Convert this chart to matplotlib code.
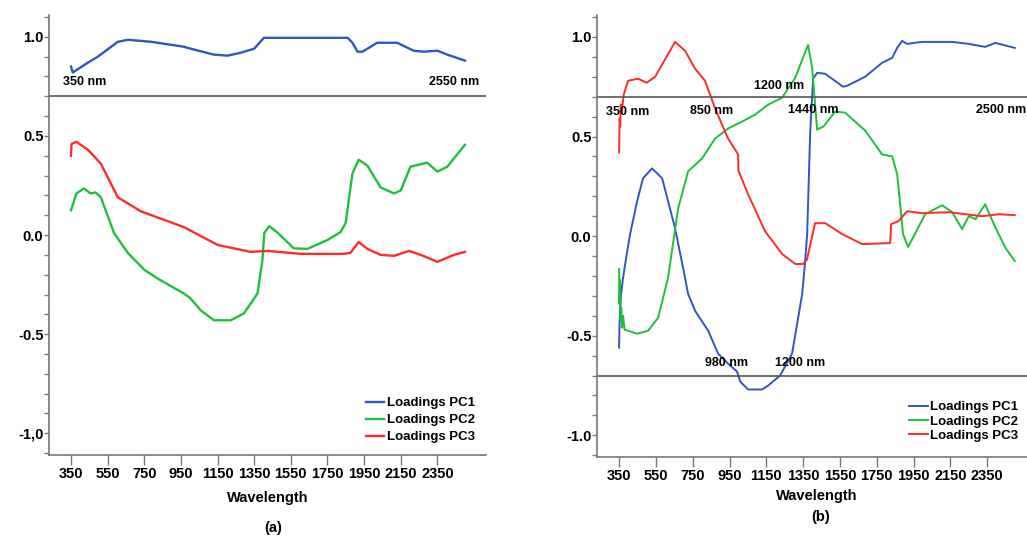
import matplotlib.pyplot as plt
from matplotlib.ticker import MultipleLocator, FixedLocator, FuncFormatter

plt.rcParams['font.family'] = ['Liberation Sans', 'DejaVu Sans']

BLUE = '#2f56c2'
GREEN = '#1fbf3c'
RED = '#ff2a2a'
GRID = '#555555'

# ---- panel (a) ----
a_pc1_wl = [350, 360, 443, 497, 606, 660, 786, 966, 1003, 1131, 1205, 1277, 1350, 1403,
            1600, 1860, 1886, 1914, 1941, 2021, 2130, 2220, 2275, 2350, 2404, 2500]
a_pc1 = [0.85, 0.82, 0.87, 0.90, 0.975, 0.985, 0.975, 0.95, 0.94, 0.91, 0.905, 0.92, 0.94, 0.995,
         0.995, 0.995, 0.97, 0.925, 0.925, 0.97, 0.97, 0.93, 0.925, 0.93, 0.91, 0.88]

a_pc2_wl = [350, 380, 420, 457, 484, 513, 585, 660, 750, 824, 966, 1003, 1058, 1131, 1222, 1294,
            1368, 1395, 1405, 1432, 1480, 1566, 1640, 1750, 1821, 1849, 1886, 1920, 1968, 2040,
            2113, 2150, 2203, 2294, 2350, 2404, 2500]
a_pc2 = [0.125, 0.21, 0.235, 0.21, 0.215, 0.19, 0.01, -0.09, -0.175, -0.22, -0.295, -0.32, -0.38,
         -0.43, -0.43, -0.395, -0.295, -0.125, 0.01, 0.045, 0.01, -0.067, -0.07, -0.025, 0.015,
         0.06, 0.31, 0.38, 0.35, 0.24, 0.21, 0.225, 0.345, 0.365, 0.32, 0.345, 0.455]

a_pc3_wl = [350, 353, 380, 443, 513, 606, 731, 966, 1151, 1331, 1424, 1603, 1840, 1875, 1920,
            1968, 2040, 2113, 2195, 2259, 2350, 2440, 2500]
a_pc3 = [0.40, 0.46, 0.47, 0.43, 0.36, 0.19, 0.12, 0.04, -0.05, -0.085, -0.08, -0.095, -0.095,
         -0.09, -0.035, -0.07, -0.10, -0.105, -0.08, -0.10, -0.135, -0.10, -0.085]

# ---- panel (b) ----
b_pc1_wl = [350, 352, 355, 360, 370, 390, 410, 448, 480, 529, 584, 654, 698, 725, 763, 834, 888,
            942, 991, 1008, 1051, 1127, 1160, 1225, 1290, 1345, 1361, 1372, 1388, 1404, 1426,
            1470, 1567, 1590, 1687, 1779, 1834, 1861, 1888, 1915, 1996, 2160, 2250, 2339, 2394, 2500]
b_pc1 = [-0.56, -0.45, -0.38, -0.30, -0.22, -0.10, 0.01, 0.175, 0.29, 0.34, 0.29, 0.04, -0.16,
         -0.29, -0.375, -0.475, -0.59, -0.64, -0.68, -0.73, -0.77, -0.77, -0.75, -0.70, -0.59,
         -0.29, -0.125, 0.01, 0.51, 0.79, 0.82, 0.815, 0.75, 0.755, 0.80, 0.87, 0.895, 0.945,
         0.98, 0.965, 0.975, 0.975, 0.965, 0.95, 0.97, 0.945]

b_pc2_wl = [350, 352, 355, 358, 362, 366, 372, 380, 399, 448, 508, 562, 616, 671, 725, 801, 872,
            942, 1018, 1089, 1160, 1236, 1307, 1377, 1399, 1426, 1460, 1524, 1578, 1687, 1779,
            1834, 1861, 1893, 1920, 1957, 2013, 2105, 2160, 2214, 2250, 2287, 2339, 2394, 2450, 2500]
b_pc2 = [-0.165, -0.34, -0.22, -0.42, -0.36, -0.46, -0.40, -0.47, -0.475, -0.49, -0.475, -0.41,
         -0.21, 0.14, 0.325, 0.39, 0.49, 0.54, 0.575, 0.61, 0.66, 0.695, 0.795, 0.96, 0.845,
         0.535, 0.55, 0.625, 0.62, 0.53, 0.41, 0.40, 0.31, 0.01, -0.055, 0.01, 0.11, 0.155,
         0.12, 0.035, 0.10, 0.085, 0.16, 0.045, -0.06, -0.125]

b_pc3_wl = [350, 353, 356, 359, 365, 375, 399, 453, 500, 546, 654, 709, 763, 817, 872, 942, 997,
            998, 1051, 1143, 1236, 1307, 1350, 1370, 1415, 1470, 1562, 1671, 1823, 1828, 1868,
            1915, 1996, 2141, 2323, 2414, 2500]
b_pc3 = [0.42, 0.59, 0.55, 0.66, 0.62, 0.71, 0.78, 0.79, 0.77, 0.80, 0.975, 0.93, 0.84, 0.78,
         0.64, 0.49, 0.41, 0.33, 0.21, 0.025, -0.09, -0.14, -0.14, -0.12, 0.065, 0.065, 0.01,
         -0.04, -0.035, 0.06, 0.075, 0.125, 0.115, 0.12, 0.10, 0.11, 0.105]

xticks = [350, 550, 750, 950, 1150, 1350, 1550, 1750, 1950, 2150, 2350]
labels = ['Loadings PC1', 'Loadings PC2', 'Loadings PC3']


def style_axes(ax, comma_label):
    for s in ['top', 'right']:
        ax.spines[s].set_visible(False)
    for s in ['left', 'bottom']:
        ax.spines[s].set_color('#777777')
        ax.spines[s].set_linewidth(1.2)
    ax.set_xlim(230, 2615)
    ax.set_ylim(-1.11, 1.11)
    ax.xaxis.set_major_locator(FixedLocator(xticks))
    ax.yaxis.set_major_locator(MultipleLocator(0.5))
    ax.yaxis.set_minor_locator(MultipleLocator(0.1))

    def fmt(v, pos):
        s = '%.1f' % v
        if s == '-0.0':
            s = '0.0'
        if comma_label and s == '-1.0':
            s = '-1,0'
        return s
    ax.yaxis.set_major_formatter(FuncFormatter(fmt))
    ax.tick_params(axis='y', which='both', length=3.5, width=1, color='#777777',
                   labelsize=10.5, pad=0.5)
    ax.tick_params(axis='x', length=7, width=1, color='#777777', labelsize=10.5, pad=1.5)
    for t in ax.get_xticklabels() + ax.get_yticklabels():
        t.set_fontweight('bold')


fig = plt.figure(figsize=(10.27, 5.36), dpi=100)

# panel (a)
ax1 = fig.add_axes([0.0477, 0.151, 0.4255, 0.821])
ax1.plot(a_pc1_wl, a_pc1, color=BLUE, lw=1.7, label=labels[0])
ax1.plot(a_pc2_wl, a_pc2, color=GREEN, lw=1.7, label=labels[1])
ax1.plot(a_pc3_wl, a_pc3, color=RED, lw=1.7, label=labels[2])
ax1.axhline(0.7, color=GRID, lw=1.2)
style_axes(ax1, True)
ax1.set_xlabel('Wavelength', fontsize=10.5, fontweight='bold', labelpad=7)
ax1.text(305, 0.77, '350 nm', fontsize=9, fontweight='bold', ha='left', va='center')
ax1.text(2580, 0.77, '2550 nm', fontsize=9, fontweight='bold', ha='right', va='center')
ax1.legend(loc='lower right', bbox_to_anchor=(1.002, 0.0), frameon=False,
           handlelength=1.4, handletextpad=0.2, labelspacing=0.36,
           prop={'weight': 'bold', 'size': 9.5})
fig.text(0.266, 0.015, '(a)', fontsize=10.5, fontweight='bold', ha='center', va='center')

# panel (b)
ax2 = fig.add_axes([0.5813, 0.147, 0.4274, 0.825])
ax2.plot(b_pc1_wl, b_pc1, color=BLUE, lw=1.4, label=labels[0])
ax2.plot(b_pc2_wl, b_pc2, color=GREEN, lw=1.4, label=labels[1])
ax2.plot(b_pc3_wl, b_pc3, color=RED, lw=1.4, label=labels[2])
ax2.axhline(0.7, color=GRID, lw=1.2)
ax2.axhline(-0.7, color=GRID, lw=1.2)
style_axes(ax2, False)
ax2.set_xlabel('Wavelength', fontsize=10.5, fontweight='bold', labelpad=4)
annot = [('1200 nm', 1220, 0.755), ('350 nm', 395, 0.625), ('850 nm', 855, 0.63),
         ('1440 nm', 1405, 0.635), ('980 nm', 935, -0.635), ('1200 nm', 1335, -0.635)]
for txt, x, y in annot:
    ax2.text(x, y, txt, fontsize=9, fontweight='bold', ha='center', va='center')
ax2.text(2290, 0.635, '2500 nm', fontsize=9, fontweight='bold', ha='left', va='center')
ax2.legend(loc='lower left', bbox_to_anchor=(0.684, 0.008), frameon=False,
           handlelength=1.4, handletextpad=0.2, labelspacing=0.15,
           prop={'weight': 'bold', 'size': 9.5})
fig.text(0.799, 0.035, '(b)', fontsize=10.5, fontweight='bold', ha='center', va='center')

fig.savefig('out.png', dpi=100)
